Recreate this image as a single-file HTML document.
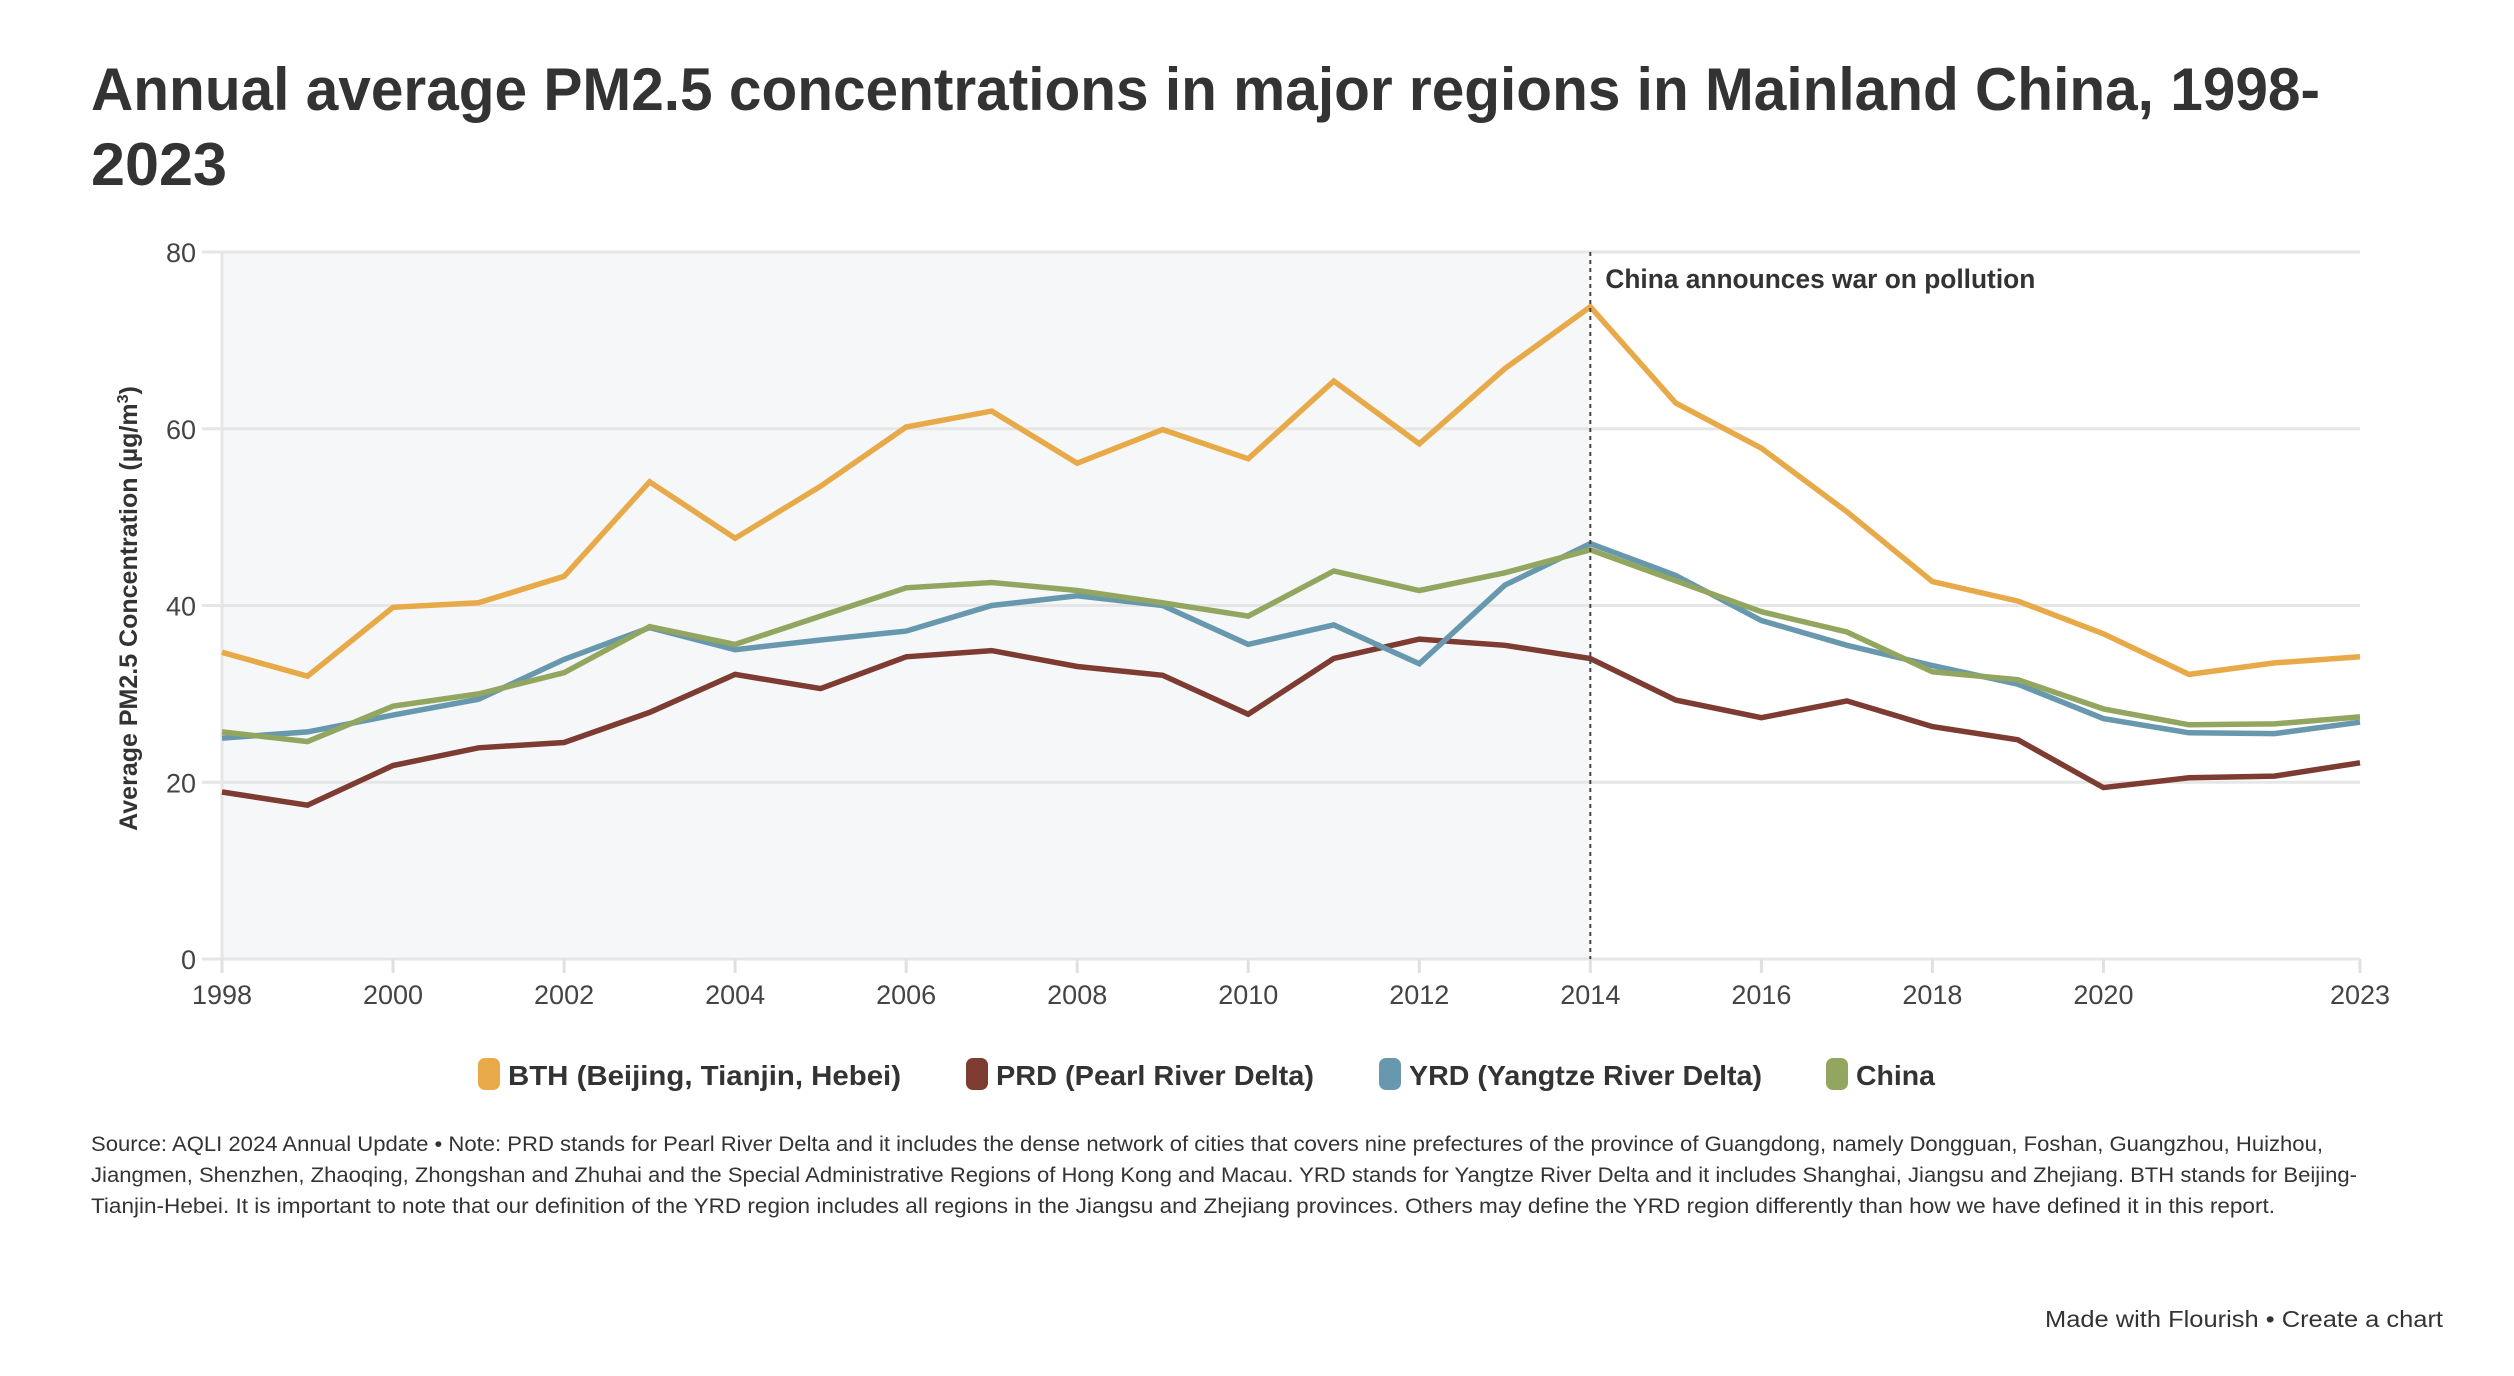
<!DOCTYPE html>
<html><head><meta charset="utf-8"><style>html,body{margin:0;padding:0;background:#fff}svg{display:block}</style></head>
<body>
<svg id="chart" width="2514" height="1376" viewBox="0 0 2514 1376" xmlns="http://www.w3.org/2000/svg" font-family="'Liberation Sans', sans-serif">
<text x="91" y="110" font-size="60" font-weight="bold" fill="#333" textLength="2229" lengthAdjust="spacingAndGlyphs">Annual average PM2.5 concentrations in major regions in Mainland China, 1998-</text>
<text x="91" y="185" font-size="60" font-weight="bold" fill="#333" textLength="136" lengthAdjust="spacingAndGlyphs">2023</text>
<g id="plot"></g>
<g>
 <g><rect x="478" y="1058" width="22" height="32" rx="7" fill="#e8a948"/><text x="508" y="1085" font-size="28" font-weight="bold" fill="#333" textLength="393" lengthAdjust="spacingAndGlyphs">BTH (Beijing, Tianjin, Hebei)</text></g>
 <g><rect x="966" y="1058" width="22" height="32" rx="7" fill="#7d3b32"/><text x="996" y="1085" font-size="28" font-weight="bold" fill="#333" textLength="318" lengthAdjust="spacingAndGlyphs">PRD (Pearl River Delta)</text></g>
 <g><rect x="1379" y="1058" width="22" height="32" rx="7" fill="#6898ae"/><text x="1409" y="1085" font-size="28" font-weight="bold" fill="#333" textLength="353" lengthAdjust="spacingAndGlyphs">YRD (Yangtze River Delta)</text></g>
 <g><rect x="1826" y="1058" width="22" height="32" rx="7" fill="#93a65f"/><text x="1856" y="1085" font-size="28" font-weight="bold" fill="#333" textLength="79" lengthAdjust="spacingAndGlyphs">China</text></g>
</g>
<g font-size="21" fill="#333">
<text x="91" y="1151" textLength="2232" lengthAdjust="spacingAndGlyphs">Source: AQLI 2024 Annual Update • Note: PRD stands for Pearl River Delta and it includes the dense network of cities that covers nine prefectures of the province of Guangdong, namely Dongguan, Foshan, Guangzhou, Huizhou,</text>
<text x="91" y="1182" textLength="2266" lengthAdjust="spacingAndGlyphs">Jiangmen, Shenzhen, Zhaoqing, Zhongshan and Zhuhai and the Special Administrative Regions of Hong Kong and Macau. YRD stands for Yangtze River Delta and it includes Shanghai, Jiangsu and Zhejiang. BTH stands for Beijing-</text>
<text x="91" y="1213" textLength="2184" lengthAdjust="spacingAndGlyphs">Tianjin-Hebei. It is important to note that our definition of the YRD region includes all regions in the Jiangsu and Zhejiang provinces. Others may define the YRD region differently than how we have defined it in this report.</text>
</g>
<text x="2443" y="1327" font-size="23" fill="#333" text-anchor="end" textLength="398" lengthAdjust="spacingAndGlyphs">Made with Flourish • Create a chart</text>
</svg>
<script>
const years = [1998,1999,2000,2001,2002,2003,2004,2005,2006,2007,2008,2009,2010,2011,2012,2013,2014,2015,2016,2017,2018,2019,2020,2021,2022,2023];
const bth = [34.7,32,39.8,40.3,43.3,54,47.6,53.5,60.2,62,56.1,59.9,56.6,65.4,58.3,66.8,73.8,62.9,57.8,50.6,42.7,40.5,36.8,32.2,33.5,34.2];
const prd = [18.9,17.4,21.9,23.9,24.5,27.9,32.2,30.6,34.2,34.9,33.1,32.1,27.7,34,36.2,35.5,34,29.3,27.3,29.2,26.3,24.8,19.4,20.5,20.7,22.2];
const yrd = [25,25.7,27.6,29.4,33.9,37.5,35,36.1,37.1,40,41.1,40,35.6,37.8,33.4,42.3,47,43.4,38.3,35.5,33.2,31.1,27.2,25.6,25.5,26.8];
const china = [25.7,24.6,28.6,30,32.4,37.6,35.6,38.8,42,42.6,41.7,40.3,38.8,43.9,41.7,43.7,46.3,42.8,39.3,37,32.5,31.6,28.3,26.5,26.6,27.4];
const yTicks = [0,20,40,60,80];
const xTicks = [1998,2000,2002,2004,2006,2008,2010,2012,2014,2016,2018,2020,2023];
const annotationYear = 2014;
const annotationText = "China announces war on pollution";

const NS = "http://www.w3.org/2000/svg";
const L = 222, R = 2360, T = 252, B = 959;
const xS = y => L + (y - years[0]) / (years[years.length-1] - years[0]) * (R - L);
const yS = v => B - v / 80 * (B - T);
const g = document.getElementById('plot');
function mk(tag, attrs, parent) {
  const e = document.createElementNS(NS, tag);
  for (const k in attrs) e.setAttribute(k, attrs[k]);
  (parent || g).appendChild(e);
  return e;
}
const shade = mk('rect', {x: L, y: T, width: xS(annotationYear) - L, height: B - T, fill: '#f5f7f9'});


yTicks.forEach(t => {
  const ln = mk('line', {x1: L - 20, x2: R, y1: yS(t), y2: yS(t), stroke: '#e6e6e6', 'stroke-width': 3});
  
  
  const tx = mk('text', {x: L - 26, y: yS(t) + 10, 'font-size': 27, fill: '#444', 'text-anchor': 'end'});
  tx.textContent = t;
  
  
});
const yax = mk('line', {x1: L, x2: L, y1: T, y2: B + 14, stroke: '#e6e6e6', 'stroke-width': 3});


xTicks.forEach(t => {
  const ln = mk('line', {x1: xS(t), x2: xS(t), y1: B, y2: B + 14, stroke: '#e0e0e0', 'stroke-width': 3});
  
  
  const tx = mk('text', {x: xS(t), y: B + 45, 'font-size': 27, fill: '#444', 'text-anchor': 'middle'});
  tx.textContent = t;
  
  
});
const yt = mk('text', {x: 0, y: 0, 'font-size': 25, 'font-weight': 'bold', fill: '#333', 'text-anchor': 'middle', transform: 'translate(137,' + ((T + B) / 2 + 3) + ') rotate(-90)'});
yt.innerHTML = 'Average PM2.5 Concentration (µg/m<tspan dy="-9" font-size="16">3</tspan><tspan dy="9">)</tspan>';


const series = [['bth', bth, '#e8a948'], ['prd', prd, '#7d3b32'], ['yrd', yrd, '#6898ae'], ['china', china, '#93a65f']];
series.forEach(([n, vals, c]) => {
  const d = vals.map((v, i) => (i ? 'L' : 'M') + xS(years[i]).toFixed(1) + ',' + yS(v).toFixed(1)).join(' ');
  const p = mk('path', {d: d, fill: 'none', stroke: c, 'stroke-width': 5.5, 'stroke-linejoin': 'miter'});
  
  
});
const ax = xS(annotationYear);
const dl = mk('line', {x1: ax, x2: ax, y1: T, y2: B, stroke: '#444', 'stroke-width': 2, 'stroke-dasharray': '4,4'});


const at = mk('text', {x: ax + 15, y: 288, 'font-size': 27, 'font-weight': 'bold', fill: '#333', textLength: 430, lengthAdjust: 'spacingAndGlyphs'});
at.textContent = annotationText;


</script>
</body></html>
